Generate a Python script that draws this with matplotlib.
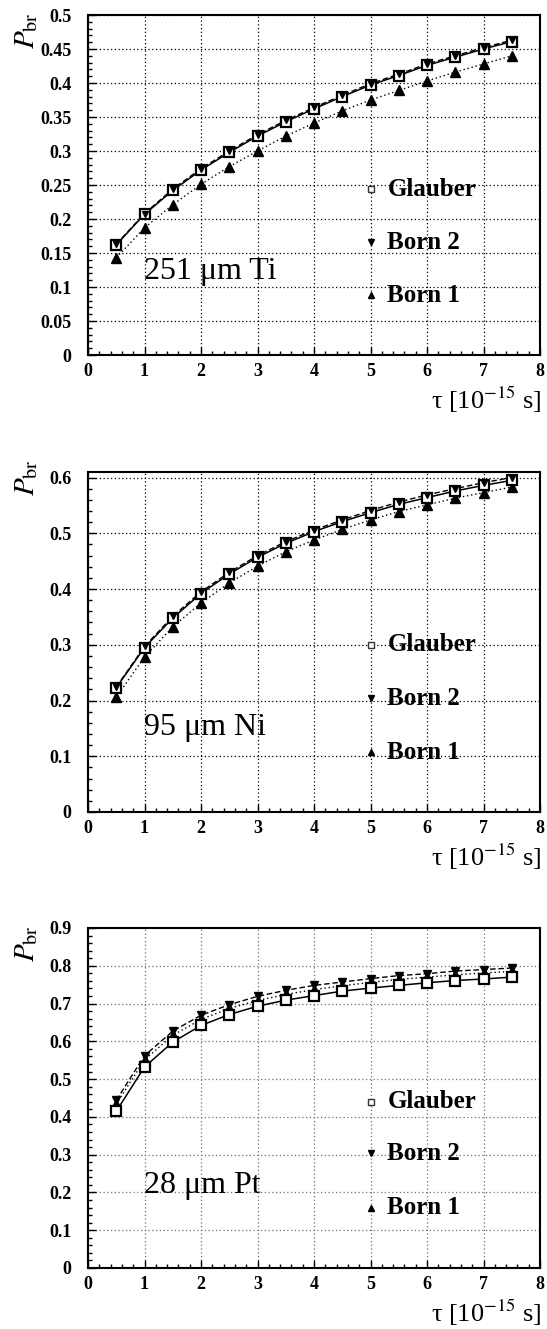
import numpy as np
import matplotlib
matplotlib.use("Agg")
import matplotlib.pyplot as plt
from matplotlib.ticker import MultipleLocator, FuncFormatter

plt.rcParams['font.family'] = ['Liberation Serif', 'DejaVu Serif']
plt.rcParams['mathtext.fontset'] = 'stix'

# lifetime grid, 10^-15 s
tau = [0.5, 1.0, 1.5, 2.0, 2.5, 3.0, 3.5, 4.0, 4.5, 5.0, 5.5, 6.0, 6.5, 7.0, 7.5]

# breakup probability, 251 um Ti
ti_glauber = [0.162, 0.207, 0.242, 0.272, 0.298, 0.322, 0.343, 0.362, 0.380,
              0.397, 0.411, 0.426, 0.438, 0.450, 0.461]
ti_born2 = [0.163, 0.208, 0.244, 0.274, 0.300, 0.324, 0.345, 0.364, 0.382,
            0.399, 0.413, 0.428, 0.440, 0.452, 0.463]
ti_born1 = [0.143, 0.187, 0.221, 0.251, 0.277, 0.300, 0.322, 0.341, 0.359,
            0.375, 0.389, 0.403, 0.416, 0.428, 0.440]

# breakup probability, 95 um Ni
ni_glauber = [0.223, 0.295, 0.348, 0.392, 0.427, 0.457, 0.482, 0.503, 0.521,
              0.537, 0.552, 0.564, 0.576, 0.586, 0.595]
ni_born2 = [0.224, 0.297, 0.351, 0.395, 0.430, 0.460, 0.485, 0.506, 0.524,
            0.541, 0.556, 0.569, 0.580, 0.591, 0.600]
ni_born1 = [0.206, 0.278, 0.332, 0.375, 0.411, 0.441, 0.467, 0.488, 0.507,
            0.524, 0.539, 0.551, 0.563, 0.573, 0.583]

# breakup probability, 28 um Pt
pt_glauber = [0.415, 0.532, 0.598, 0.642, 0.671, 0.693, 0.709, 0.721, 0.733,
              0.741, 0.748, 0.755, 0.761, 0.765, 0.770]
pt_born2 = [0.444, 0.562, 0.627, 0.669, 0.697, 0.719, 0.735, 0.748, 0.757,
            0.766, 0.774, 0.779, 0.786, 0.790, 0.794]
pt_born1 = [0.434, 0.551, 0.616, 0.658, 0.687, 0.708, 0.724, 0.737, 0.747,
            0.756, 0.764, 0.770, 0.776, 0.781, 0.785]

targets = ["251 \u03bcm Ti", "95 \u03bcm Ni", "28 \u03bcm Pt"]
y_max = [0.5, 0.61, 0.9]
y_major = [0.05, 0.1, 0.1]
y_minor = [0.01, 0.02, 0.02]
series_names = ["Glauber", "Born 2", "Born 1"]

panels = [
    (ti_glauber, ti_born2, ti_born1),
    (ni_glauber, ni_born2, ni_born1),
    (pt_glauber, pt_born2, pt_born1),
]

W, H = 547, 1329
fig = plt.figure(figsize=(W / 100, H / 100), dpi=100)

ax_left, ax_right = 88, 540
ax_tops = [15, 472, 928]
ax_h = 340
label_x = [0.99, 0.99, 0.99]
label_y = [0.112, 0.138, 0.199]
leg_y = [(0.244, 0.166, 0.088), (0.300, 0.204, 0.107), (0.440, 0.304, 0.159)]
ylab_top = [12, 459, 925]
grid_col = ['black', 'black', '#707070']


def fmt(v, pos):
    return "%g" % round(v, 4)


for i, (glau, b2, b1) in enumerate(panels):
    top = ax_tops[i]
    ax = fig.add_axes([ax_left / W, 1 - (top + ax_h) / H,
                       (ax_right - ax_left) / W, ax_h / H])
    ax.set_xlim(0, 8)
    ax.set_ylim(0, y_max[i])

    ax.xaxis.set_major_locator(MultipleLocator(1))
    ax.xaxis.set_minor_locator(MultipleLocator(0.2))
    ax.yaxis.set_major_locator(MultipleLocator(y_major[i]))
    ax.yaxis.set_minor_locator(MultipleLocator(y_minor[i]))
    ax.xaxis.set_major_formatter(FuncFormatter(fmt))
    ax.yaxis.set_major_formatter(FuncFormatter(fmt))

    ax.tick_params(which='both', direction='in', top=False, right=False,
                   width=1.0)
    ax.tick_params(which='major', length=5.5)
    ax.tick_params(which='minor', length=3)
    ax.tick_params(axis='y', which='major', pad=12)
    ax.tick_params(axis='x', which='major', pad=6)
    for lab in ax.get_xticklabels() + ax.get_yticklabels():
        lab.set_fontweight('bold')
        lab.set_fontsize(13)
    for sp in ax.spines.values():
        sp.set_linewidth(1.5)

    ax.grid(True, which='major', linestyle=(0, (1, 2)), color=grid_col[i],
            linewidth=0.9)
    ax.set_axisbelow(True)

    # curves
    ax.plot(tau, b1, linestyle=(0, (1, 2)), color='black', linewidth=1.0)
    ax.plot(tau, b2, linestyle=(0, (4, 2)), color='black', linewidth=1.0)
    ax.plot(tau, glau, linestyle='-', color='black', linewidth=1.1)

    # markers
    ax.plot(tau, b1, linestyle='none', marker='^', ms=6.5, color='black')
    ax.plot(tau, glau, linestyle='none', marker='s', ms=7, mfc='white',
            mec='black', mew=1.6)
    ax.plot(tau, b2, linestyle='none', marker='v', ms=6.0 if i == 2 else 4.5,
            color='black')

    # legend entries
    lx = 5.0
    ly = leg_y[i]
    ax.plot([lx], [ly[0]], marker='s', ms=5, mfc='white', mec='#333333',
            mew=1.0, linestyle='none')
    ax.plot([lx], [ly[1]], marker='v', ms=5, color='black', linestyle='none')
    ax.plot([lx], [ly[2]], marker='^', ms=5, color='black', linestyle='none')
    for name, yy in zip(series_names, ly):
        ax.text(5.3, yy, name, fontsize=18, fontweight='bold',
                ha='left', va='center')

    ax.text(label_x[i], label_y[i], targets[i], fontsize=23,
            ha='left', va='baseline')

    # axis titles
    ax.text(1.004, -45 / ax_h, "\u03c4 [10$^{\\mathrm{-15}}$ s]",
            transform=ax.transAxes, fontsize=19, ha='right', va='center')
    fig.text(27 / W, 1 - ylab_top[i] / H, r'$P_{\mathrm{br}}$', fontsize=21,
             rotation=90, ha='center', va='top')

fig.savefig("out.png", dpi=100)
